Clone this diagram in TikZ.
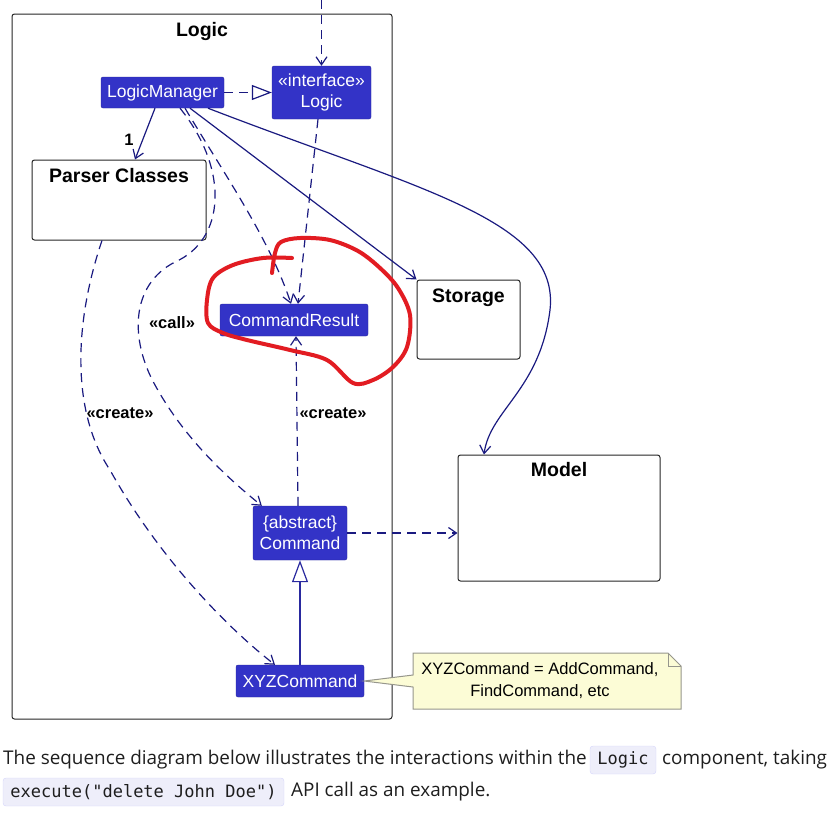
\documentclass[tikz,border=0pt]{standalone}
\usepackage{fontspec}
\setmainfont{Liberation Sans}
\newfontfamily\bodyfont{Open Sans}
\newfontfamily\codefont{DejaVu Sans Mono}
\usetikzlibrary{arrows.meta,positioning}
\definecolor{umlblue}{RGB}{51,51,199}
\definecolor{umlline}{RGB}{26,26,128}
\definecolor{umlnote}{RGB}{252,252,214}
\definecolor{notegray}{RGB}{150,150,140}
\definecolor{pen}{RGB}{226,28,34}
\definecolor{codebg}{RGB}{238,238,250}
\definecolor{bodytext}{RGB}{30,30,30}
\begin{document}
\begin{tikzpicture}[x=1pt,y=-1pt,
  barb/.style={-{Straight Barb[length=8pt,width=11pt]}},
  dep/.style={barb,umlline,line width=1.2pt,dash pattern=on 9pt off 6pt},
  uses/.style={barb,umlline,line width=1.2pt},
  cls/.style={fill=umlblue,draw=umlblue!80!black,text=white,rounded corners=2pt,inner sep=0pt,align=center,font=\fontsize{17.5}{21}\selectfont},
  pkg/.style={draw=black!85,fill=white,rounded corners=2.5pt,line width=1pt,inner sep=0pt},
  ttl/.style={font=\bfseries\fontsize{19.5}{22}\selectfont,inner sep=0pt},
  stereo/.style={font=\bfseries\fontsize{16.5}{18}\selectfont,text=black},
  txt/.style={font=\bodyfont\fontsize{18.9}{22}\selectfont,text=bodytext,inner sep=0pt},
  code/.style={font=\codefont\fontsize{17}{20}\selectfont,text=bodytext,fill=codebg,draw=codebg!90!blue,rounded corners=3pt,inner sep=0pt,minimum height=28pt}
]
\useasboundingbox (0,0) rectangle (837,823);
\node[pkg, minimum width=380, minimum height=705] (logicpkg) at (202,366.5) {};
\node[ttl, below=9pt of logicpkg.north] (logicttl) {Logic};
\node[cls, minimum width=123, minimum height=31] (lm) at (162.5,92.5) {LogicManager};
\node[cls, minimum width=99, minimum height=53] (logic) at (321.5,92.5) {«interface»\\Logic};
\node[pkg, minimum width=174, minimum height=80] (parser) at (119,200) {};
\node[ttl, below=9pt of parser.north] (parserttl) {Parser Classes};
\node[pkg, minimum width=103, minimum height=79] (storage) at (468.5,319.5) {};
\node[ttl, below=9pt of storage.north] (storagettl) {Storage};
\node[pkg, minimum width=202, minimum height=126] (model) at (559,518) {};
\node[ttl, below=8pt of model.north] (modelttl) {Model};
\node[cls, minimum width=148, minimum height=32] (cr) at (294,320) {CommandResult};
\node[cls, minimum width=94, minimum height=54] (cmd) at (300,533) {\{abstract\}\\Command};
\node[cls, minimum width=128, minimum height=32] (xyz) at (300,681) {XYZCommand};
\coordinate (ext) at (321.5,0);
\draw[dep] (ext) -- (logic);
\draw[umlline, line width=1.2pt, dash pattern=on 9pt off 6pt, -{Triangle[open,length=20pt,width=15pt,fill=white]}] (lm) -- (logic);
\draw[uses] ([xshift=-7.5pt]lm.south) -- node[stereo, pos=0.62, left=5pt] {1} ([xshift=16pt]parser.north);
\draw[uses] ([xshift=27.5pt]lm.south) -- (storage.north west);
\draw[uses] ([xshift=45.5pt]lm.south) .. controls (420,190) and (560,220) .. (550,310) .. controls (540,390) and (490,410) .. ([xshift=-75pt]model.north);
\draw[dep] ([xshift=22.5pt]lm.south) .. controls (225,175) and (270,240) .. ([xshift=-3pt]cr.north);
\draw[dep] ([xshift=-3.5pt]logic.south) -- ([xshift=4pt]cr.north);
\draw[dep] ([xshift=17.5pt]lm.south) .. controls (230,170) and (225,240) .. (175,262) .. controls (130,285) and (130,340) .. (155,385) .. controls (185,440) and (230,480) .. ([xshift=9pt]cmd.north west);
\node[stereo] (calllbl) at (172,323) {«call»};
\draw[dep] ([xshift=-17pt]parser.south) .. controls (75,320) and (70,410) .. (110,470) .. controls (160,560) and (230,630) .. ([xshift=-25pt]xyz.north);
\node[stereo] (createlbla) at (120,413) {«create»};
\draw[dep] ([xshift=-2pt]cmd.north) -- ([xshift=2pt]cr.south);
\node[stereo] (createlblb) at (333,413) {«create»};
\draw[dep] (cmd.east) -- (cmd.east -| model.west);
\draw[umlblue!80!black, line width=1.2pt, -{Triangle[open,length=22pt,width=16pt,fill=white]}] (xyz) -- (cmd);
\filldraw[fill=umlnote, draw=notegray, line width=1pt] (413,653) -- (668,653) -- (681,666) -- (681,709) -- (413,709) -- (413,687) -- (xyz.east) -- (413,675) -- cycle;
\draw[notegray, line width=1pt] (668,653) -- (668,666) -- (681,666);
\node[font=\fontsize{16.5}{22}\selectfont, align=center] (note) at (540,681) {XYZCommand = AddCommand,\\FindCommand, etc};
\draw[pen, line width=4pt, line cap=round, line join=round] plot[smooth, tension=0.55] coordinates {(272,273) (275,253) (281,242) (300,238) (330,240) (358,251) (380,268) (398,288) (410,315) (407,347) (393,367) (373,380) (353,383) (327,360) (290,350) (247,340) (223,333) (208,323) (207,300) (213,278) (233,265) (263,258) (292,258)};
\node[txt, anchor=west] (line1a) at (3,760) {The sequence diagram below illustrates the interactions within the};
\node[code, minimum width=66] (logiccode) at (623,760) {Logic};
\node[txt, anchor=west] (line1b) at (662,760) {component, taking};
\node[code, minimum width=281] (execcode) at (143.5,792) {execute("delete John Doe")};
\node[txt, anchor=west] (line2) at (291,792) {API call as an example.};
\end{tikzpicture}
\end{document}
